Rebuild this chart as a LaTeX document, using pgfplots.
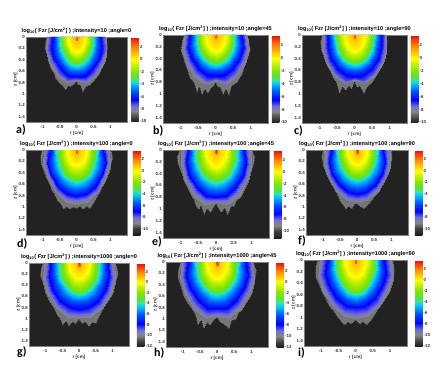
\documentclass[border=0pt]{standalone}
\usepackage{pgfplots}
\usepackage{pgfplotstable}
\usepackage{fontspec}
\setmainfont{Liberation Sans}
\newfontfamily\lab{Carlito}
\pgfplotsset{compat=1.18}
\definecolor{bgd}{RGB}{34,34,34}
\definecolor{edg}{RGB}{118,118,120}
\pgfplotsset{
 colormap={r1}{rgb255(0pt)=(30,30,30);rgb255(8pt)=(70,70,70);rgb255(18pt)=(135,135,135);rgb255(26pt)=(110,110,215);rgb255(36pt)=(0,0,255);rgb255(50pt)=(0,90,255);rgb255(61pt)=(0,200,255);rgb255(66pt)=(50,230,170);rgb255(72pt)=(90,225,60);rgb255(80pt)=(128,230,0);rgb255(90pt)=(190,240,0);rgb255(100pt)=(255,255,0);rgb255(110pt)=(255,190,0);rgb255(120pt)=(255,130,0);rgb255(130pt)=(255,50,10);rgb255(136pt)=(200,20,10)},
 colormap={r2}{rgb255(0pt)=(30,30,30);rgb255(11pt)=(60,60,60);rgb255(21pt)=(135,135,135);rgb255(31pt)=(110,110,215);rgb255(41pt)=(0,0,255);rgb255(56pt)=(0,90,255);rgb255(69pt)=(0,200,255);rgb255(75pt)=(50,230,170);rgb255(81pt)=(90,225,60);rgb255(91pt)=(128,230,0);rgb255(101pt)=(190,240,0);rgb255(111pt)=(255,255,0);rgb255(121pt)=(255,190,0);rgb255(131pt)=(255,130,0);rgb255(141pt)=(255,50,10);rgb255(147pt)=(200,20,10)},
 colormap={r3}{rgb255(0pt)=(30,30,30);rgb255(10pt)=(70,70,70);rgb255(20pt)=(135,135,135);rgb255(30pt)=(110,110,215);rgb255(42pt)=(0,0,255);rgb255(60pt)=(0,90,255);rgb255(74pt)=(0,200,255);rgb255(81pt)=(50,230,170);rgb255(88pt)=(90,225,60);rgb255(100pt)=(128,230,0);rgb255(110pt)=(190,240,0);rgb255(120pt)=(255,255,0);rgb255(130pt)=(255,190,0);rgb255(140pt)=(255,130,0);rgb255(150pt)=(255,50,10);rgb255(156pt)=(200,20,10)},
 row1/.style={colormap name=r1,point meta min=-10.1,point meta max=3.6},
 row2/.style={colormap name=r2,point meta min=-11.1,point meta max=3.6},
 row3/.style={colormap name=r3,point meta min=-12,point meta max=3.6},
 panel/.style n args={4}{at={(#1pt,378pt-#2pt)},anchor=north west,scale only axis,width=#3pt,height=#4pt,
  xmin=-1.49,xmax=1.49,ymin=0,ymax=1.49,y dir=reverse,axis background/.style={fill=bgd},
  xtick={-1,-.5,0,.5,1},xticklabels={-1,-0.5,0,0.5,1},
  ytick={0,.2,.4,.6,.8,1,1.2,1.4},yticklabels={0,0.2,0.4,0.6,0.8,1,1.2,1.4},
  tick style={draw=none},axis line style={draw=gray,line width=.2pt},
  ticklabel style={font=\fontsize{4.4}{5}\selectfont\bfseries,inner sep=1pt,text=black!80},
  xticklabel style={yshift=-2pt},
  xlabel={r [cm]},ylabel={z [cm]},
  label style={font=\fontsize{4.6}{5}\selectfont\bfseries,inner sep=1pt,text=black!80},
  xlabel style={yshift=-1pt},ylabel style={yshift=-1pt},
  title style={font=\fontsize{5.6}{6}\selectfont\bfseries,inner sep=1pt,yshift=-4pt},
  colorbar,
  colorbar style={width=7.5pt,xshift=-9.5pt,ytick={-12,-10,-8,-6,-4,-2,0,2},yticklabels={-12,-10,-8,-6,-4,-2,0,2},
   ticklabel style={font=\fontsize{4.4}{5}\selectfont\bfseries,inner sep=1pt,text=black!80},tick style={draw=none},axis line style={draw=none}},
 },
 jag/.style={fill=edg,draw=black!48,line width=1.1pt,dash pattern=on .7pt off 1.1pt},
}
\newcommand{\ttl}[2]{log$_{\mathbf{10}}$( Fzr [J/cm$^{\mathbf{2}}$] ) ;intensity=#1 ;angle=#2}
\newcommand{\fld}[1]{\addplot[surf,shader=interp,mesh/cols=6,point meta=\thisrow{v}] table[x expr={\thisrow{R}*sin(\thisrow{t})},y expr={\thisrow{R}*cos(\thisrow{t})}]{#1};
\addplot[surf,shader=interp,mesh/cols=6,point meta=\thisrow{v}] table[x expr={-\thisrow{R}*sin(\thisrow{t})},y expr={\thisrow{R}*cos(\thisrow{t})}]{#1};}
\newcommand{\plab}[3]{\node[font=\lab\bfseries\fontsize{12}{12}\selectfont,anchor=west,inner sep=0pt] at (#1,378-#2) {#3};}
\pgfplotstableread[row sep=\\]{t R v\\
0 .75 -8.4\\20 .86 -8.4\\40 .89 -8.4\\60 .92 -8.4\\75 .93 -8.4\\90 .86 -8.4\\
0 .73 -7.3\\20 .80 -7.3\\40 .82 -7.3\\60 .85 -7.3\\75 .86 -7.3\\90 .80 -7.3\\
0 .69 -6.3\\20 .70 -6.3\\40 .72 -6.3\\60 .75 -6.3\\75 .76 -6.3\\90 .69 -6.3\\
0 .60 -5\\20 .61 -5\\40 .62 -5\\60 .64 -5\\75 .64 -5\\90 .60 -5\\
0 .52 -3.8\\20 .52 -3.8\\40 .53 -3.8\\60 .54 -3.8\\75 .54 -3.8\\90 .52 -3.8\\
0 .40 -2\\20 .40 -2\\40 .40 -2\\60 .40 -2\\75 .40 -2\\90 .39 -2\\
0 .26 0\\20 .26 0\\40 .26 0\\60 .25 0\\75 .25 0\\90 .24 0\\
0 .09 1\\20 .08 1\\40 .05 1\\60 .04 1\\75 .04 1\\90 .04 1\\
0 .06 2.5\\20 .05 2.5\\40 .03 2.5\\60 .02 2.5\\75 .02 2.5\\90 .02 2.5\\
0 0 3.5\\20 0 3.5\\40 0 3.5\\60 0 3.5\\75 0 3.5\\90 0 3.5\\
}\ta
\pgfplotstableread[row sep=\\]{t R v\\
0 .78 -8.4\\20 .88 -8.4\\40 .93 -8.4\\60 .97 -8.4\\75 .99 -8.4\\90 .90 -8.4\\
0 .75 -7.3\\20 .82 -7.3\\40 .84 -7.3\\60 .87 -7.3\\75 .89 -7.3\\90 .82 -7.3\\
0 .68 -6.3\\20 .71 -6.3\\40 .73 -6.3\\60 .77 -6.3\\75 .80 -6.3\\90 .72 -6.3\\
0 .60 -5\\20 .61 -5\\40 .63 -5\\60 .67 -5\\75 .68 -5\\90 .64 -5\\
0 .53 -3.8\\20 .53 -3.8\\40 .55 -3.8\\60 .57 -3.8\\75 .58 -3.8\\90 .56 -3.8\\
0 .42 -2\\20 .42 -2\\40 .43 -2\\60 .44 -2\\75 .45 -2\\90 .44 -2\\
0 .27 0\\20 .27 0\\40 .27 0\\60 .28 0\\75 .29 0\\90 .30 0\\
0 .09 1\\20 .08 1\\40 .05 1\\60 .04 1\\75 .04 1\\90 .04 1\\
0 .06 2.5\\20 .05 2.5\\40 .03 2.5\\60 .02 2.5\\75 .02 2.5\\90 .02 2.5\\
0 0 3.5\\20 0 3.5\\40 0 3.5\\60 0 3.5\\75 0 3.5\\90 0 3.5\\
}\tb
\pgfplotstableread[row sep=\\]{t R v\\
0 .76 -8.4\\20 .87 -8.4\\40 .90 -8.4\\60 .94 -8.4\\75 .95 -8.4\\90 .90 -8.4\\
0 .74 -7.3\\20 .82 -7.3\\40 .84 -7.3\\60 .87 -7.3\\75 .88 -7.3\\90 .84 -7.3\\
0 .69 -6.3\\20 .71 -6.3\\40 .73 -6.3\\60 .77 -6.3\\75 .79 -6.3\\90 .74 -6.3\\
0 .60 -5\\20 .61 -5\\40 .63 -5\\60 .66 -5\\75 .67 -5\\90 .66 -5\\
0 .53 -3.8\\20 .53 -3.8\\40 .55 -3.8\\60 .57 -3.8\\75 .58 -3.8\\90 .59 -3.8\\
0 .43 -2\\20 .43 -2\\40 .44 -2\\60 .45 -2\\75 .46 -2\\90 .47 -2\\
0 .27 0\\20 .27 0\\40 .27 0\\60 .28 0\\75 .29 0\\90 .30 0\\
0 .09 1\\20 .08 1\\40 .05 1\\60 .04 1\\75 .04 1\\90 .04 1\\
0 .06 2.5\\20 .05 2.5\\40 .03 2.5\\60 .02 2.5\\75 .02 2.5\\90 .02 2.5\\
0 0 3.5\\20 0 3.5\\40 0 3.5\\60 0 3.5\\75 0 3.5\\90 0 3.5\\
}\tc
\pgfplotstableread[row sep=\\]{t R v\\
0 .97 -9.4\\20 .98 -9.4\\40 .99 -9.4\\60 1.02 -9.4\\75 1.04 -9.4\\90 .98 -9.4\\
0 .90 -8.2\\20 .91 -8.2\\40 .93 -8.2\\60 .95 -8.2\\75 .97 -8.2\\90 .89 -8.2\\
0 .81 -7\\20 .82 -7\\40 .84 -7\\60 .87 -7\\75 .89 -7\\90 .79 -7\\
0 .70 -5.5\\20 .71 -5.5\\40 .73 -5.5\\60 .75 -5.5\\75 .76 -5.5\\90 .70 -5.5\\
0 .60 -4.1\\20 .60 -4.1\\40 .61 -4.1\\60 .63 -4.1\\75 .64 -4.1\\90 .62 -4.1\\
0 .46 -2\\20 .46 -2\\40 .46 -2\\60 .47 -2\\75 .47 -2\\90 .46 -2\\
0 .27 0\\20 .27 0\\40 .28 0\\60 .29 0\\75 .30 0\\90 .32 0\\
0 .09 1\\20 .08 1\\40 .05 1\\60 .04 1\\75 .04 1\\90 .04 1\\
0 .06 2.5\\20 .05 2.5\\40 .03 2.5\\60 .02 2.5\\75 .02 2.5\\90 .02 2.5\\
0 0 3.5\\20 0 3.5\\40 0 3.5\\60 0 3.5\\75 0 3.5\\90 0 3.5\\
}\td
\pgfplotstableread[row sep=\\]{t R v\\
0 .90 -9.4\\20 1.00 -9.4\\40 1.03 -9.4\\60 1.04 -9.4\\75 1.05 -9.4\\90 1.0 -9.4\\
0 .87 -8.2\\20 .92 -8.2\\40 .94 -8.2\\60 .96 -8.2\\75 .97 -8.2\\90 .90 -8.2\\
0 .79 -7\\20 .82 -7\\40 .84 -7\\60 .87 -7\\75 .88 -7\\90 .78 -7\\
0 .69 -5.5\\20 .70 -5.5\\40 .72 -5.5\\60 .75 -5.5\\75 .75 -5.5\\90 .69 -5.5\\
0 .59 -4.1\\20 .59 -4.1\\40 .61 -4.1\\60 .63 -4.1\\75 .64 -4.1\\90 .62 -4.1\\
0 .45 -2\\20 .45 -2\\40 .46 -2\\60 .46 -2\\75 .47 -2\\90 .46 -2\\
0 .28 0\\20 .28 0\\40 .28 0\\60 .29 0\\75 .30 0\\90 .31 0\\
0 .09 1\\20 .08 1\\40 .05 1\\60 .04 1\\75 .04 1\\90 .04 1\\
0 .06 2.5\\20 .05 2.5\\40 .03 2.5\\60 .02 2.5\\75 .02 2.5\\90 .02 2.5\\
0 0 3.5\\20 0 3.5\\40 0 3.5\\60 0 3.5\\75 0 3.5\\90 0 3.5\\
}\te
\pgfplotstableread[row sep=\\]{t R v\\
0 .92 -9.4\\20 .96 -9.4\\40 .96 -9.4\\60 .98 -9.4\\75 1.02 -9.4\\90 .98 -9.4\\
0 .87 -8.2\\20 .89 -8.2\\40 .90 -8.2\\60 .93 -8.2\\75 .95 -8.2\\90 .88 -8.2\\
0 .77 -7\\20 .79 -7\\40 .80 -7\\60 .84 -7\\75 .86 -7\\90 .76 -7\\
0 .66 -5.5\\20 .68 -5.5\\40 .70 -5.5\\60 .73 -5.5\\75 .73 -5.5\\90 .68 -5.5\\
0 .56 -4.1\\20 .56 -4.1\\40 .58 -4.1\\60 .60 -4.1\\75 .61 -4.1\\90 .60 -4.1\\
0 .44 -2\\20 .44 -2\\40 .44 -2\\60 .45 -2\\75 .45 -2\\90 .44 -2\\
0 .26 0\\20 .26 0\\40 .27 0\\60 .28 0\\75 .29 0\\90 .30 0\\
0 .09 1\\20 .08 1\\40 .05 1\\60 .04 1\\75 .04 1\\90 .04 1\\
0 .06 2.5\\20 .05 2.5\\40 .03 2.5\\60 .02 2.5\\75 .02 2.5\\90 .02 2.5\\
0 0 3.5\\20 0 3.5\\40 0 3.5\\60 0 3.5\\75 0 3.5\\90 0 3.5\\
}\tf
\pgfplotstableread[row sep=\\]{t R v\\
0 .98 -10.4\\20 1.05 -10.4\\40 1.08 -10.4\\60 1.12 -10.4\\75 1.14 -10.4\\90 1.06 -10.4\\
0 .93 -9.1\\20 .98 -9.1\\40 1.00 -9.1\\60 1.03 -9.1\\75 1.05 -9.1\\90 .96 -9.1\\
0 .82 -7.8\\20 .85 -7.8\\40 .88 -7.8\\60 .92 -7.8\\75 .93 -7.8\\90 .86 -7.8\\
0 .69 -6\\20 .71 -6\\40 .74 -6\\60 .77 -6\\75 .78 -6\\90 .74 -6\\
0 .59 -4.4\\20 .59 -4.4\\40 .61 -4.4\\60 .64 -4.4\\75 .65 -4.4\\90 .64 -4.4\\
0 .48 -2.1\\20 .48 -2.1\\40 .48 -2.1\\60 .49 -2.1\\75 .49 -2.1\\90 .48 -2.1\\
0 .27 0\\20 .28 0\\40 .29 0\\60 .30 0\\75 .31 0\\90 .32 0\\
0 .09 1\\20 .08 1\\40 .05 1\\60 .04 1\\75 .04 1\\90 .04 1\\
0 .06 2.5\\20 .05 2.5\\40 .03 2.5\\60 .02 2.5\\75 .02 2.5\\90 .02 2.5\\
0 0 3.5\\20 0 3.5\\40 0 3.5\\60 0 3.5\\75 0 3.5\\90 0 3.5\\
}\tg
\pgfplotstableread[row sep=\\]{t R v\\
0 .97 -10.4\\20 1.06 -10.4\\40 1.09 -10.4\\60 1.13 -10.4\\75 1.14 -10.4\\90 1.05 -10.4\\
0 .92 -9.1\\20 .98 -9.1\\40 1.00 -9.1\\60 1.03 -9.1\\75 1.05 -9.1\\90 .98 -9.1\\
0 .80 -7.8\\20 .85 -7.8\\40 .88 -7.8\\60 .91 -7.8\\75 .93 -7.8\\90 .85 -7.8\\
0 .70 -6\\20 .72 -6\\40 .74 -6\\60 .77 -6\\75 .78 -6\\90 .74 -6\\
0 .60 -4.4\\20 .60 -4.4\\40 .61 -4.4\\60 .64 -4.4\\75 .64 -4.4\\90 .63 -4.4\\
0 .48 -2.1\\20 .48 -2.1\\40 .48 -2.1\\60 .49 -2.1\\75 .49 -2.1\\90 .48 -2.1\\
0 .28 0\\20 .29 0\\40 .29 0\\60 .30 0\\75 .31 0\\90 .33 0\\
0 .09 1\\20 .08 1\\40 .05 1\\60 .04 1\\75 .04 1\\90 .04 1\\
0 .06 2.5\\20 .05 2.5\\40 .03 2.5\\60 .02 2.5\\75 .02 2.5\\90 .02 2.5\\
0 0 3.5\\20 0 3.5\\40 0 3.5\\60 0 3.5\\75 0 3.5\\90 0 3.5\\
}\th
\pgfplotstableread[row sep=\\]{t R v\\
0 1.03 -10.4\\20 1.06 -10.4\\40 1.07 -10.4\\60 1.11 -10.4\\75 1.15 -10.4\\90 1.07 -10.4\\
0 .95 -9.1\\20 .97 -9.1\\40 .99 -9.1\\60 1.02 -9.1\\75 1.05 -9.1\\90 .98 -9.1\\
0 .82 -7.8\\20 .84 -7.8\\40 .87 -7.8\\60 .90 -7.8\\75 .92 -7.8\\90 .82 -7.8\\
0 .72 -6\\20 .72 -6\\40 .73 -6\\60 .76 -6\\75 .76 -6\\90 .71 -6\\
0 .62 -4.4\\20 .62 -4.4\\40 .62 -4.4\\60 .63 -4.4\\75 .63 -4.4\\90 .62 -4.4\\
0 .52 -2.1\\20 .51 -2.1\\40 .50 -2.1\\60 .49 -2.1\\75 .48 -2.1\\90 .47 -2.1\\
0 .30 0\\20 .30 0\\40 .30 0\\60 .30 0\\75 .30 0\\90 .31 0\\
0 .09 1\\20 .08 1\\40 .05 1\\60 .04 1\\75 .04 1\\90 .04 1\\
0 .06 2.5\\20 .05 2.5\\40 .03 2.5\\60 .02 2.5\\75 .02 2.5\\90 .02 2.5\\
0 0 3.5\\20 0 3.5\\40 0 3.5\\60 0 3.5\\75 0 3.5\\90 0 3.5\\
}\ti
\begin{document}
\begin{tikzpicture}[x=1pt,y=1pt]
\path[use as bounding box,fill=white] (0,0) rectangle (446,378);
\begin{axis}[panel={26}{37}{101}{85},row1,title={\ttl{10}{0}}]
\addplot[jag] coordinates {(-.86,0)(-.90,.09)(-.92,.2)(-.84,.32)(-.83,.40)(-.75,.55)(-.65,.64)(-.61,.72)(-.49,.81)(-.42,.84)(-.32,.92)(-.24,.84)(-.19,.87)(-.12,.84)(-.05,.81)(0,.75)(.05,.83)(.13,.84)(.19,.95)(.27,.87)(.39,.84)(.49,.78)(.61,.69)(.68,.64)(.75,.52)(.81,.40)(.91,.2)(.89,.09)(.85,0)} --cycle;
\fld{\ta}
\end{axis}
\begin{axis}[panel={163}{35}{105}{88},row1,title={\ttl{10}{45}}]
\addplot[jag] coordinates {(-.88,0)(-.93,.1)(-.97,.26)(-.92,.35)(-.87,.45)(-.78,.6)(-.72,.72)(-.6,.8)(-.52,.95)(-.45,.85)(-.38,1.0)(-.3,.9)(-.22,.98)(-.12,.88)(-.05,.86)(0,.77)(.06,.87)(.14,.88)(.22,.99)(.3,.9)(.38,1.0)(.45,.86)(.55,.82)(.62,.79)(.75,.66)(.83,.5)(.92,.35)(.98,.25)(.93,.1)(.88,0)} --cycle;
\fld{\tb}
\end{axis}
\begin{axis}[panel={302}{35}{105}{88},row1,title={\ttl{10}{90}}]
\addplot[jag] coordinates {(-.9,0)(-.95,.12)(-.93,.26)(-.85,.38)(-.78,.5)(-.68,.6)(-.6,.72)(-.5,.8)(-.42,.98)(-.35,.86)(-.25,.93)(-.16,.85)(-.08,.9)(0,.77)(.08,.88)(.15,.85)(.27,.98)(.36,.87)(.5,.8)(.6,.7)(.7,.6)(.8,.45)(.88,.3)(.92,.12)(.88,0)} --cycle;
\fld{\tc}
\end{axis}
\begin{axis}[panel={26}{150}{101}{85},row2,title={\ttl{100}{0}}]
\addplot[jag] coordinates {(-1.0,0)(-1.05,.12)(-1.03,.25)(-.95,.38)(-.87,.5)(-.78,.6)(-.72,.7)(-.63,.78)(-.56,.88)(-.44,.95)(-.38,1.03)(-.3,.98)(-.2,1.03)(-.1,.99)(0,1.02)(.1,.98)(.2,1.03)(.3,.98)(.4,1.02)(.5,.93)(.6,.82)(.72,.7)(.82,.55)(.92,.42)(1.0,.28)(1.06,.14)(1.01,0)} --cycle;
\fld{\td}
\end{axis}
\begin{axis}[panel={163}{150}{106}{88},row2,title={\ttl{100}{45}}]
\addplot[jag] coordinates {(-1.0,0)(-1.08,.12)(-1.06,.22)(-.98,.36)(-.88,.48)(-.78,.6)(-.74,.7)(-.62,.8)(-.55,.95)(-.48,1.0)(-.42,.92)(-.33,1.07)(-.25,.98)(-.15,1.05)(-.07,.96)(0,.9)(.08,.98)(.15,1.05)(.25,.97)(.33,1.08)(.42,.95)(.5,.95)(.62,.8)(.75,.68)(.85,.52)(.95,.4)(1.05,.25)(1.08,.12)(1.0,0)} --cycle;
\fld{\te}
\end{axis}
\begin{axis}[panel={306}{150}{102}{85},row2,title={\ttl{100}{90}}]
\addplot[jag] coordinates {(-.98,0)(-1.02,.12)(-.98,.25)(-.9,.38)(-.82,.48)(-.72,.6)(-.62,.72)(-.55,.8)(-.48,.9)(-.4,.96)(-.32,1.03)(-.25,.98)(-.15,1.02)(-.08,.95)(0,.93)(.08,.98)(.2,1.02)(.3,.97)(.4,.9)(.5,.82)(.6,.72)(.72,.6)(.84,.46)(.93,.32)(1.02,.16)(1.0,0)} --cycle;
\fld{\tf}
\end{axis}
\begin{axis}[panel={29}{263}{100}{83},row3,title={\ttl{1000}{0}}]
\addplot[jag] coordinates {(-1.06,0)(-1.12,.12)(-1.14,.22)(-1.05,.38)(-.98,.55)(-.88,.68)(-.74,.8)(-.65,.92)(-.55,1.0)(-.48,1.1)(-.38,1.03)(-.3,1.12)(-.2,1.05)(-.1,1.08)(0,1.0)(.1,1.08)(.2,1.05)(.3,1.13)(.4,1.05)(.5,1.08)(.6,.95)(.72,.82)(.85,.68)(.98,.52)(1.08,.36)(1.16,.2)(1.12,.08)(1.06,0)} --cycle;
\fld{\tg}
\end{axis}
\begin{axis}[panel={166}{262}{102}{85},row3,title={\ttl{1000}{45}}]
\addplot[jag] coordinates {(-1.05,0)(-1.12,.14)(-1.13,.28)(-1.05,.42)(-.96,.6)(-.85,.72)(-.72,.82)(-.62,.92)(-.55,1.08)(-.45,1.0)(-.38,1.16)(-.3,1.05)(-.2,1.1)(-.1,1.02)(0,.95)(.1,1.05)(.2,1.08)(.35,1.16)(.42,1.02)(.55,1.0)(.62,.9)(.75,.78)(.88,.65)(1.0,.48)(1.1,.32)(1.14,.15)(1.05,0)} --cycle;
\fld{\th}
\end{axis}
\begin{axis}[panel={304}{260}{103}{86},row3,title={\ttl{1000}{90}}]
\addplot[jag] coordinates {(-1.07,0)(-1.14,.12)(-1.14,.3)(-1.05,.42)(-.95,.55)(-.85,.68)(-.72,.82)(-.62,.88)(-.52,.98)(-.42,1.05)(-.32,1.12)(-.22,1.07)(-.12,1.1)(0,1.03)(.12,1.1)(.22,1.06)(.32,1.12)(.45,1.04)(.55,.95)(.68,.82)(.8,.68)(.92,.52)(1.02,.38)(1.12,.2)(1.1,.08)(1.06,0)} --cycle;
\fld{\ti}
\end{axis}
\plab{16}{130}{a)}\plab{153}{131}{b)}\plab{294}{131}{c)}
\plab{17}{244}{d)}\plab{152}{242}{e)}\plab{298}{241}{f)}
\plab{17}{352}{g)}\plab{154}{353}{h)}\plab{298}{353}{i)}
\end{tikzpicture}
\end{document}
